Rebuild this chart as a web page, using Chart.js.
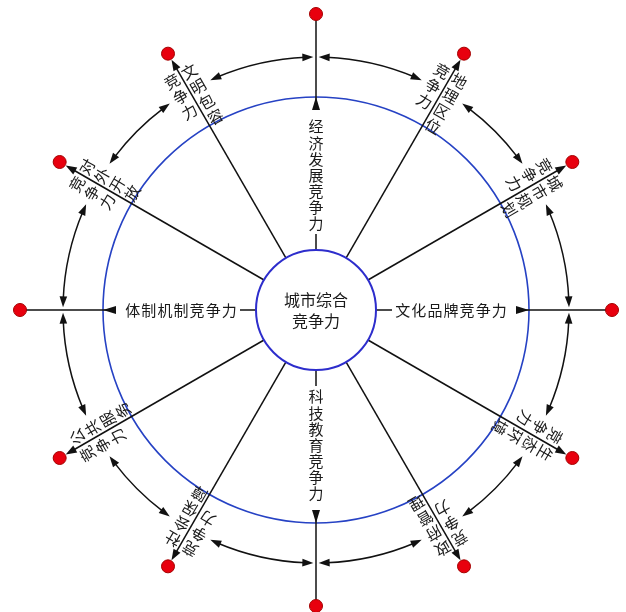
<!DOCTYPE html>
<html><head><meta charset="utf-8">
<script src="https://cdn.jsdelivr.net/npm/chart.js@4.4.1/dist/chart.umd.min.js"></script>
<style>html,body{margin:0;padding:0;background:#fff;}#wrap{width:626px;height:612px;}</style>
</head><body><div id="wrap"><canvas id="c" width="626" height="612"></canvas></div>
<script>
// ---- data ----
const centerLabel = ['城市综合', '竞争力'];
const dimensions = ['经济发展', '地理区位', '城市规划', '文化品牌', '生态环境', '政府管理',
                    '科技教育', '社会保障', '公共服务', '体制机制', '对外开放', '文明包容'];
const suffix = '竞争力';

// ---- layout (geometry in data units, 1 unit = 1 px) ----
const L = { node: 296, ring: 213, arcR: 253, hub: 60, axialText: 135, diagStart: 270 };
const FONT = '"Noto Sans CJK SC", "Noto Sans", sans-serif';
const step = 360 / dimensions.length;
const rad = d => d * Math.PI / 180;
const isAxial = i => i % 3 === 0;

const nodes = dimensions.map((d, i) => ({ x: L.node * Math.sin(rad(i * step)), y: L.node * Math.cos(rad(i * step)) }));

const diagramPlugin = {
  id: 'diagram',
  beforeDatasetsDraw(chart) {
    const xs = chart.scales.x, ys = chart.scales.y, ctx = chart.ctx;
    const cx = xs.getPixelForValue(0), cy = ys.getPixelForValue(0);
    const k = xs.getPixelForValue(1) - cx;
    const P = (r, a) => [xs.getPixelForValue(r * Math.sin(rad(a))), ys.getPixelForValue(r * Math.cos(rad(a)))];
    const line = (p, q) => { ctx.beginPath(); ctx.moveTo(p[0], p[1]); ctx.lineTo(q[0], q[1]); ctx.stroke(); };
    const arrow = (tip, base, hw = 4) => {
      const dx = tip[0] - base[0], dy = tip[1] - base[1], len = Math.hypot(dx, dy);
      const px = -dy / len * hw, py = dx / len * hw;
      ctx.beginPath(); ctx.moveTo(tip[0], tip[1]);
      ctx.lineTo(base[0] + px, base[1] + py); ctx.lineTo(base[0] - px, base[1] - py);
      ctx.closePath(); ctx.fill();
    };
    ctx.save();
    // blue ring
    ctx.strokeStyle = '#2642c4'; ctx.lineWidth = 1.6;
    ctx.beginPath(); ctx.arc(cx, cy, L.ring * k, 0, Math.PI * 2); ctx.stroke();

    // spokes
    ctx.strokeStyle = '#111'; ctx.fillStyle = '#111'; ctx.lineWidth = 1.5;
    dimensions.forEach((d, i) => {
      const a = i * step;
      if (isAxial(i)) {
        line(P(L.hub, a), P(L.hub + 16, a));
        line(P(L.ring - 6, a), P(L.node, a));
        arrow(P(L.ring, a), P(L.ring - 13, a));
      } else {
        line(P(L.hub, a), P(L.node - 12, a));
        arrow(P(L.node - 7, a), P(L.node - 18, a));
      }
    });

    // double-headed arcs between neighbouring spokes
    const alen = 11 / L.arcR * 180 / Math.PI;
    dimensions.forEach((d, i) => {
      const j = (i + 1) % dimensions.length;
      const a1 = i * step + (isAxial(i) ? 0.6 : 5.3);
      const a2 = (i + 1) * step - (isAxial(j) ? 0.6 : 5.3);
      ctx.beginPath();
      ctx.arc(cx, cy, L.arcR * k, rad(a1 + alen * 0.7 - 90), rad(a2 - alen * 0.7 - 90));
      ctx.stroke();
      arrow(P(L.arcR, a1), P(L.arcR, a1 + alen), 3.8);
      arrow(P(L.arcR, a2), P(L.arcR, a2 - alen), 3.8);
    });

    // hub
    ctx.fillStyle = '#fff'; ctx.strokeStyle = '#2d2dcc'; ctx.lineWidth = 2;
    ctx.beginPath(); ctx.arc(cx, cy, L.hub * k, 0, Math.PI * 2); ctx.fill(); ctx.stroke();

    // text
    ctx.fillStyle = '#1a1a1a'; ctx.textAlign = 'center'; ctx.textBaseline = 'middle';
    ctx.font = '16px ' + FONT;
    ctx.fillText(centerLabel[0], cx, cy - 10);
    ctx.fillText(centerLabel[1], cx, cy + 11);

    ctx.font = '15px ' + FONT;
    const sp = 16.1;
    dimensions.forEach((d, i) => {
      const a = i * step;
      if (!isAxial(i)) return;
      const chars = [...(d + suffix)];
      const n = chars.length;
      chars.forEach((ch, m) => {
        const off = (m - (n - 1) / 2) * sp;
        let x = cx, y = cy;
        if (i === 0) { x = cx; y = cy - L.axialText * k + off; }
        else if (i === 6) { x = cx; y = cy + L.axialText * k + off; }
        else if (i === 3) { x = cx + L.axialText * k + off; y = cy; }
        else { x = cx - L.axialText * k + off; y = cy; }
        ctx.fillText(ch, x, y);
      });
    });

    ctx.font = '15.5px ' + FONT;
    const dsp = 17.5;
    const column = (text, a, side) => {
      [...text].forEach((ch, m) => {
        const p = P(L.diagStart - m * dsp, a);
        ctx.save();
        ctx.translate(p[0], p[1]);
        ctx.rotate(rad(a));
        ctx.fillText(ch, side, 0);
        ctx.restore();
      });
    };
    dimensions.forEach((d, i) => {
      if (isAxial(i)) return;
      const a = i * step;
      column(d, a, 9.5);
      column(suffix, a, -10.5);
    });
    ctx.restore();
  }
};

new Chart(document.getElementById('c'), {
  type: 'scatter',
  data: {
    datasets: [{
      data: nodes,
      pointRadius: 6.5,
      pointHoverRadius: 6.5,
      backgroundColor: '#e8000e',
      borderColor: '#a30000',
      borderWidth: 1,
      clip: false
    }]
  },
  options: {
    responsive: false,
    animation: false,
    events: [],
    layout: { padding: 0, autoPadding: false },
    scales: {
      x: { type: 'linear', display: false, min: -316, max: 310 },
      y: { type: 'linear', display: false, min: -302, max: 310 }
    },
    plugins: { legend: { display: false }, tooltip: { enabled: false } }
  },
  plugins: [diagramPlugin]
});
</script>
</body></html>
